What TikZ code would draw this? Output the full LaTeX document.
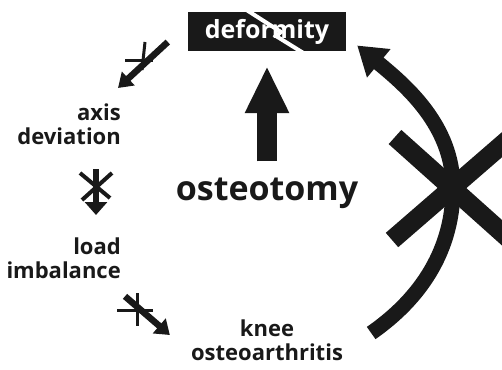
\documentclass[tikz,border=0pt]{standalone}
\usepackage{fontspec}
\setmainfont{Open Sans}
\usetikzlibrary{arrows.meta}
\usetikzlibrary{positioning}
\definecolor{ink}{gray}{0.1}

\begin{document}
\begin{tikzpicture}[x=1pt, y=-1pt,
    label/.style={font=\bfseries\fontsize{22}{24}\selectfont, text=ink, inner sep=0pt},
    thin arrow/.style={ink, line width=6.5pt, -{Triangle[width=18pt,length=14pt]}},
    crossbar/.style={ink, line width=3pt},
    bigbar/.style={ink, line width=19pt}]
  \clip (0,0) rectangle (502,369);

  % 変形
  \node[fill=ink, text=white, font=\bfseries\fontsize{25}{30}\selectfont,
        minimum width=158pt, minimum height=39pt, inner sep=0pt] (deform) at (267,31.5) {deformity};
  \draw[white, line width=4pt] (245,9) -- (281,32) -- (276,36) -- (305,54);

  % 骨切り術
  \node[label, font=\bfseries\fontsize{34}{40}\selectfont] (osteo) at (267,193) {osteotomy};
  \draw[ink, line width=20pt, -{Triangle[width=41pt,length=47pt]}]
    ([yshift=16pt]osteo.north) -- ([yshift=-15pt]deform.south);

  % ラベル
  \node[label, align=right, anchor=north east] (axis) at (121,104) {axis\\deviation};
  \node[label, align=right, anchor=north east] (load) at (121,238) {load\\imbalance};
  \node[label, align=center, anchor=north] (knee) at (267,320) {knee\\osteoarthritis};

  % 小さい矢印
  \draw[thin arrow] ([shift={(-20pt,-10.5pt)}]deform.west) -- ([shift={(-3pt,16pt)}]axis.north east);
  \draw[crossbar] (125,60) -- (153,60);
  \draw[crossbar] (145,42) -- (142,70);

  \draw[thin arrow, line width=5.5pt, -{Triangle[width=22pt,length=13pt]}]
    ([shift={(-25pt,-24pt)}]axis.south east) -- ([shift={(-25pt,23pt)}]load.north east);
  \draw[crossbar, line width=4pt] (80,173) -- (110,198);
  \draw[crossbar, line width=4pt] (112,173) -- (82,200);

  \draw[thin arrow, -{Triangle[width=19pt,length=14pt]}]
    ([shift={(4pt,-17pt)}]load.south east) -- ([shift={(-21pt,-15pt)}]knee.north west);
  \draw[crossbar] (117,310) -- (153,310);
  \draw[crossbar] (137,293) -- (137,326);

  % 大きい矢印
  \draw[ink, line width=15pt, -{Triangle[width=35pt,length=28pt]}]
    ([shift={(28pt,-13pt)}]knee.north east) .. controls (430,292) and (453,240) .. (453,188)
    .. controls (453,125) and (405,85) .. ([shift={(11pt,-14pt)}]deform.east);
  \draw[bigbar] (395,137) -- (509,239);
  \draw[bigbar] (392,240) -- (512,136);
\end{tikzpicture}
\end{document}
